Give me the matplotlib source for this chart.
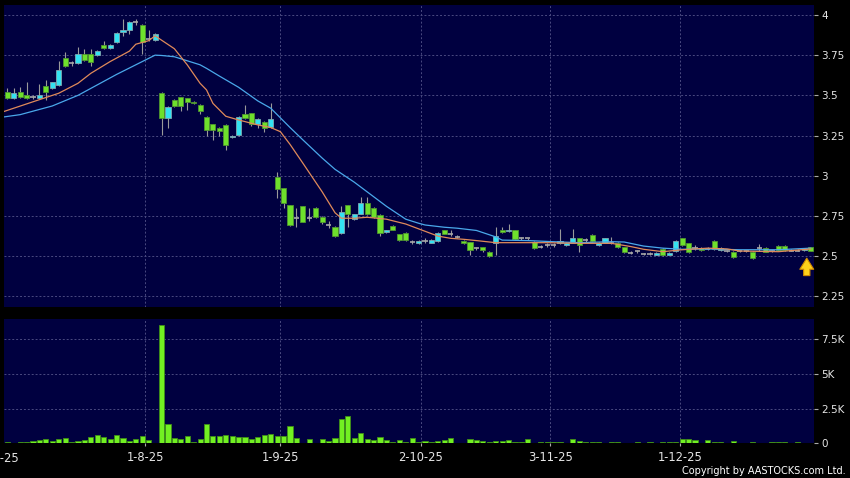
import numpy as np
import matplotlib
matplotlib.use('Agg')
import matplotlib.pyplot as plt

# daily candles (Jul - Dec 2025)
opens = [3.52, 3.485, 3.52, 3.50, 3.49, 3.485, 3.56, 3.544, 3.565, 3.73,
         3.70, 3.70, 3.757, 3.757, 3.75, 3.81, 3.795, 3.83, 3.893, 3.907,
         3.955, 3.94, 3.85, 3.845, 3.513, 3.357, 3.47, 3.488, 3.482, 3.46,
         3.44, 3.368, 3.32, 3.30, 3.316, 3.24, 3.254, 3.382, 3.389, 3.322,
         3.333, 3.305, 2.995, 2.922, 2.818, 2.736, 2.81, 2.736, 2.80, 2.746,
         2.694, 2.684, 2.646, 2.818, 2.731, 2.762, 2.83, 2.80, 2.756, 2.65,
         2.688, 2.636, 2.646, 2.59, 2.58, 2.597, 2.584, 2.597, 2.66, 2.638,
         2.62, 2.597, 2.587, 2.55, 2.555, 2.528, 2.58, 2.664, 2.655, 2.66,
         2.61, 2.61, 2.59, 2.56, 2.57, 2.57, 2.58, 2.57, 2.584, 2.61,
         2.60, 2.632, 2.57, 2.584, 2.584, 2.584, 2.555, 2.522, 2.53, 2.515,
         2.515, 2.51, 2.543, 2.51, 2.53, 2.61, 2.58, 2.553, 2.553, 2.545,
         2.597, 2.54, 2.532, 2.528, 2.532, 2.532, 2.528, 2.553, 2.553, 2.532,
         2.566, 2.566, 2.535, 2.535, 2.54, 2.555]
closes = [3.485, 3.515, 3.49, 3.485, 3.49, 3.50, 3.52, 3.58, 3.66, 3.68,
          3.70, 3.757, 3.72, 3.71, 3.778, 3.793, 3.81, 3.89, 3.905, 3.955,
          3.955, 3.834, 3.85, 3.88, 3.357, 3.43, 3.435, 3.435, 3.46, 3.45,
          3.40, 3.285, 3.285, 3.28, 3.19, 3.25, 3.368, 3.357, 3.322, 3.353,
          3.295, 3.35, 2.92, 2.829, 2.694, 2.736, 2.715, 2.736, 2.746, 2.711,
          2.694, 2.627, 2.777, 2.762, 2.76, 2.83, 2.762, 2.746, 2.646, 2.66,
          2.663, 2.60, 2.60, 2.59, 2.597, 2.597, 2.60, 2.646, 2.64, 2.638,
          2.62, 2.58, 2.54, 2.55, 2.54, 2.50, 2.625, 2.65, 2.664, 2.605,
          2.61, 2.61, 2.55, 2.56, 2.57, 2.57, 2.597, 2.584, 2.61, 2.57,
          2.60, 2.597, 2.584, 2.61, 2.584, 2.555, 2.528, 2.522, 2.53, 2.515,
          2.515, 2.52, 2.507, 2.52, 2.597, 2.57, 2.528, 2.553, 2.54, 2.545,
          2.545, 2.553, 2.532, 2.497, 2.532, 2.532, 2.487, 2.553, 2.528, 2.532,
          2.54, 2.54, 2.535, 2.535, 2.547, 2.535]
highs = [3.546, 3.546, 3.55, 3.58, 3.50, 3.57, 3.596, 3.585, 3.714, 3.77,
         3.715, 3.80, 3.79, 3.79, 3.785, 3.835, 3.82, 3.895, 3.975, 3.96,
         3.975, 3.945, 3.905, 3.885, 3.52, 3.435, 3.48, 3.49, 3.485, 3.465,
         3.445, 3.37, 3.325, 3.305, 3.32, 3.255, 3.37, 3.44, 3.39, 3.36,
         3.34, 3.45, 3.026, 2.925, 2.82, 2.80, 2.815, 2.80, 2.805, 2.75,
         2.72, 2.69, 2.81, 2.82, 2.765, 2.87, 2.87, 2.805, 2.76, 2.665,
         2.695, 2.64, 2.65, 2.60, 2.60, 2.61, 2.605, 2.65, 2.665, 2.66,
         2.63, 2.60, 2.59, 2.56, 2.56, 2.53, 2.683, 2.68, 2.70, 2.665,
         2.62, 2.615, 2.595, 2.57, 2.58, 2.58, 2.667, 2.59, 2.667, 2.615,
         2.61, 2.635, 2.59, 2.615, 2.62, 2.59, 2.56, 2.53, 2.54, 2.52,
         2.525, 2.525, 2.55, 2.525, 2.60, 2.615, 2.585, 2.57, 2.556, 2.56,
         2.60, 2.556, 2.54, 2.53, 2.54, 2.54, 2.53, 2.575, 2.556, 2.54,
         2.57, 2.57, 2.545, 2.545, 2.55, 2.56]
lows = [3.48, 3.48, 3.485, 3.48, 3.475, 3.48, 3.47, 3.54, 3.56, 3.675,
        3.68, 3.695, 3.715, 3.68, 3.745, 3.79, 3.79, 3.825, 3.87, 3.88,
        3.94, 3.76, 3.84, 3.84, 3.254, 3.30, 3.43, 3.40, 3.41, 3.445,
        3.385, 3.25, 3.22, 3.245, 3.16, 3.235, 3.25, 3.355, 3.31, 3.30,
        3.27, 3.30, 2.862, 2.80, 2.69, 2.68, 2.71, 2.72, 2.74, 2.70,
        2.675, 2.62, 2.64, 2.684, 2.725, 2.76, 2.755, 2.74, 2.625, 2.645,
        2.66, 2.595, 2.595, 2.575, 2.575, 2.585, 2.58, 2.59, 2.635, 2.625,
        2.61, 2.575, 2.507, 2.54, 2.525, 2.495, 2.507, 2.645, 2.65, 2.60,
        2.60, 2.60, 2.545, 2.55, 2.56, 2.56, 2.575, 2.565, 2.58, 2.528,
        2.59, 2.59, 2.565, 2.58, 2.575, 2.55, 2.52, 2.515, 2.52, 2.51,
        2.505, 2.505, 2.50, 2.505, 2.525, 2.565, 2.52, 2.54, 2.535, 2.54,
        2.54, 2.535, 2.525, 2.49, 2.525, 2.525, 2.485, 2.53, 2.525, 2.525,
        2.535, 2.535, 2.53, 2.53, 2.535, 2.53]
volumes = [96, 20, 96, 96, 168, 264, 288, 144, 336, 384,
           72, 168, 264, 456, 600, 456, 336, 624, 384, 192,
           288, 504, 240, 48, 8520, 1368, 408, 312, 504, 120,
           312, 1416, 528, 528, 624, 552, 456, 456, 312, 456,
           600, 672, 552, 504, 1224, 384, 48, 336, 48, 336,
           144, 384, 1752, 1968, 384, 720, 312, 264, 480, 264,
           96, 264, 72, 384, 96, 150, 120, 168, 216, 384,
           48, 48, 312, 240, 144, 72, 168, 168, 216, 96,
           72, 312, 48, 96, 96, 96, 96, 24, 288, 192,
           120, 120, 120, 24, 120, 96, 48, 24, 96, 24,
           120, 24, 72, 72, 72, 288, 312, 216, 24, 264,
           120, 72, 24, 168, 48, 48, 96, 48, 24, 96,
           96, 96, 24, 72, 24, 24]

# moving averages as shown on the chart (candle index, value)
ma10_x = [-0.5, 4, 8, 11, 13, 16, 19, 20, 22, 23, 26, 28, 30, 31, 32, 34,
          36, 39, 41, 42.5, 44, 46, 49, 51, 52, 54, 56, 59, 62, 64, 67, 69,
          71, 73, 76, 84, 89, 94, 97, 99, 102, 105, 109, 112, 114, 120, 125]
ma10_y = [3.40, 3.46, 3.513, 3.575, 3.637, 3.71, 3.775, 3.818, 3.84, 3.87,
          3.79, 3.69, 3.575, 3.534, 3.45, 3.37, 3.347, 3.316, 3.30, 3.274,
          3.195, 3.078, 2.90, 2.77, 2.736, 2.736, 2.742, 2.73, 2.70, 2.67,
          2.625, 2.611, 2.605, 2.597, 2.584, 2.584, 2.58, 2.58, 2.56, 2.543,
          2.528, 2.54, 2.55, 2.545, 2.532, 2.528, 2.545]
ma20_x = [-0.5, 2, 7, 11, 14, 17, 20, 23, 24, 26, 28, 30, 31, 33, 36, 39,
          41, 44, 46, 49, 51, 54, 56, 59, 62, 64, 65, 68, 70, 73, 76, 77,
          81, 85, 89, 94, 96, 99, 102, 105, 109, 114, 120, 125]
ma20_y = [3.366, 3.38, 3.434, 3.50, 3.565, 3.63, 3.69, 3.75, 3.748, 3.74,
          3.715, 3.69, 3.668, 3.62, 3.55, 3.465, 3.42, 3.30, 3.223, 3.11,
          3.04, 2.96, 2.90, 2.81, 2.73, 2.705, 2.694, 2.68, 2.674, 2.66,
          2.62, 2.60, 2.597, 2.59, 2.584, 2.59, 2.588, 2.563, 2.55, 2.543,
          2.545, 2.54, 2.54, 2.55]

date_labels = ['2-7-25', '1-8-25', '1-9-25', '2-10-25', '3-11-25', '1-12-25']
date_pos = [-1.1, 21.5, 42.5, 64.3, 84.5, 104.7]
price_ticks = [2.25, 2.5, 2.75, 3, 3.25, 3.5, 3.75, 4]
price_labels = ['2.25', '2.5', '2.75', '3', '3.25', '3.5', '3.75', '4']
vol_ticks = [0, 2500, 5000, 7500]
vol_labels = ['0', '2.5K', '5K', '7.5K']

bg = '#000040'
grid_kw = dict(color='#4a4a80', linestyle=(0, (2, 2)), linewidth=0.7)

o = np.array(opens)
c = np.array(closes)
h = np.array(highs)
l = np.array(lows)
x = np.arange(len(o))
up = c > o
down = c < o
flat = np.isclose(c, o)

fig = plt.figure(figsize=(8.5, 4.78), dpi=100, facecolor='black')
ax1 = fig.add_axes([0.0047, 0.3584, 0.9529, 0.6312], facecolor=bg)
ax2 = fig.add_axes([0.0047, 0.0722, 0.9529, 0.2605], facecolor=bg)

# price panel
ax1.vlines(x, l, h, color='#9a9a9a', linewidth=0.8, zorder=2)
ax1.bar(x[up], (c - o)[up], bottom=o[up], width=0.8, color='#33e2f2',
        edgecolor='#7fa8b0', linewidth=0.6, zorder=3)
ax1.bar(x[down], (o - c)[down], bottom=c[down], width=0.8, color='#6ee02c',
        edgecolor='#4f9530', linewidth=0.6, zorder=3)
ax1.hlines(c[flat], x[flat] - 0.4, x[flat] + 0.4, color='#a8a8a8',
           linewidth=1.2, zorder=3)
ax1.plot(ma20_x, ma20_y, color='#4aa8ea', linewidth=0.9, zorder=4)
ax1.plot(ma10_x, ma10_y, color='#e08a5a', linewidth=0.9, zorder=4)

ax1.annotate('', xy=(len(o) - 1.6, 2.505), xytext=(len(o) - 1.6, 2.362),
             arrowprops=dict(arrowstyle='simple,head_width=1.0,head_length=0.8,tail_width=0.45',
                             fc='#ffd21a', ec='#d08a00', lw=0.8, mutation_scale=10),
             zorder=5)

ax1.set_ylim(2.186, 4.062)
ax1.set_yticks(price_ticks, price_labels)
ax1.set_xticks(date_pos[1:])
ax1.tick_params(axis='x', length=0, labelbottom=False)

# volume panel
ax2.bar(x, volumes, width=0.8, color='#72f022', edgecolor='#3f8f18',
        linewidth=0.6, zorder=3)
ax2.set_ylim(0, 8955)
ax2.set_yticks(vol_ticks, vol_labels)
ax2.set_xticks(date_pos[1:], date_labels[1:])
# first date sits at the left edge and is cut off, as in the original
ax2.text(date_pos[0], -0.117, date_labels[0], transform=ax2.get_xaxis_transform(),
         ha='center', va='center', fontsize=8.3, color='#e6e6e6', clip_on=False)

for ax in (ax1, ax2):
    ax.set_xlim(-0.51, 125.52)
    ax.grid(True, **grid_kw)
    ax.set_axisbelow(True)
    for s in ax.spines.values():
        s.set_visible(False)
    ax.yaxis.tick_right()
    ax.tick_params(axis='y', colors='#aaaaaa', labelcolor='#e6e6e6',
                   labelsize=7.5, length=3, width=0.8, pad=2.5)
ax2.tick_params(axis='x', colors='#aaaaaa', labelcolor='#e6e6e6',
                labelsize=8.3, length=2.5, width=0.8, pad=3)

fig.text(0.9945, 1 - 471 / 478, 'Copyright by AASTOCKS.com Ltd.', ha='right',
         va='center', fontsize=7, color='white')

fig.savefig('out.png', dpi=100, facecolor='black')
